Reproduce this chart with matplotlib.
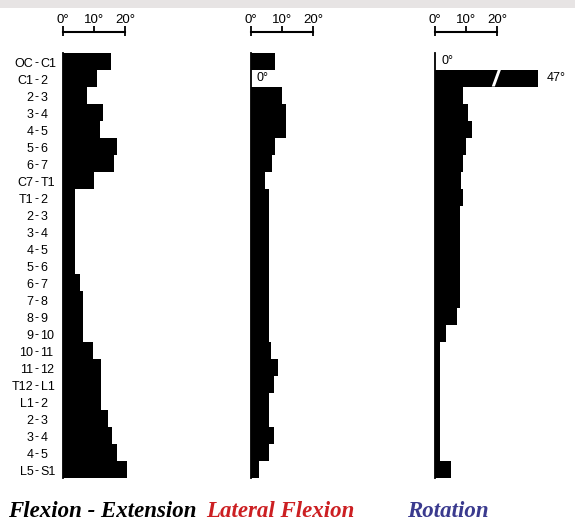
import numpy as np
import matplotlib.pyplot as plt
from matplotlib.patches import Polygon, Rectangle
from matplotlib.transforms import blended_transform_factory

# motion segments, top to bottom
segments = ["OC - C1", "C1 - 2", "2 - 3", "3 - 4", "4 - 5", "5 - 6", "6 - 7", "C7 - T1",
            "T1 - 2", "2 - 3", "3 - 4", "4 - 5", "5 - 6", "6 - 7", "7 - 8", "8 - 9",
            "9 - 10", "10 - 11", "11 - 12", "T12 - L1", "L1 - 2", "2 - 3", "3 - 4",
            "4 - 5", "L5 - S1"]

# range of motion in degrees
flexion_extension = [15.4, 11.1, 7.8, 13.0, 12.0, 17.5, 16.5, 10.0,
                     4.0, 4.0, 4.0, 4.0, 4.0, 5.6, 6.5, 6.5, 6.5,
                     9.8, 12.2, 12.2, 12.2, 14.6, 15.8, 17.3, 20.5]
lateral_flexion = [7.7, 0.0, 10.1, 11.2, 11.2, 7.7, 6.9, 4.4,
                   5.9, 5.9, 5.9, 5.9, 5.9, 5.9, 5.9, 5.9, 5.9,
                   6.5, 8.8, 7.5, 5.9, 5.9, 7.5, 5.9, 2.7]
rotation = [0.0, 47.0, 9.1, 10.6, 11.8, 9.9, 9.1, 8.3,
            9.0, 8.0, 8.0, 8.0, 8.0, 8.0, 8.0, 7.0, 3.5,
            1.7, 1.7, 1.7, 1.7, 1.7, 1.7, 1.7, 5.0]

scale_ticks = [0, 10, 20]
titles = ["Flexion - Extension", "Lateral Flexion", "Rotation"]
title_colors = ["black", "#cc1f22", "#3a3a8e"]

W, H = 575, 527
fig = plt.figure(figsize=(W / 100, H / 100), dpi=100)
fig.patch.set_facecolor("white")
fig.patches.append(Rectangle((0, 1 - 8 / H), 1, 8 / H, transform=fig.transFigure,
                             facecolor="#e7e4e4", edgecolor="none", zorder=-5))

label_font = "Liberation Sans"


def draw_panel(left_px, xmax, values, cap=None, zero_offset=4.5):
    ax = fig.add_axes([left_px / W, 49.5 / H, xmax * 3.1 / W, 425 / H])
    shown = [min(v, cap) if cap else v for v in values]
    edges = np.arange(len(values) + 1) - 0.5
    ax.stairs(shown, edges, orientation="horizontal", fill=True,
              color="black", baseline=0, linewidth=0)
    ax.set_xlim(0, xmax)
    ax.set_ylim(len(values) - 0.5, -0.5)
    ax.set_facecolor("none")

    for s in ["right", "bottom"]:
        ax.spines[s].set_visible(False)
    ax.spines["left"].set_linewidth(1.3)
    ax.spines["top"].set_position(("outward", 14.5))
    ax.spines["top"].set_bounds(scale_ticks[0], scale_ticks[-1])
    ax.spines["top"].set_linewidth(1.5)

    ax.set_yticks([])
    ax.xaxis.tick_top()
    ax.set_xticks(scale_ticks)
    ax.set_xticklabels([f"{t}°" for t in scale_ticks], fontfamily=label_font)
    ax.set_xticks([scale_ticks[0], scale_ticks[-1]], minor=True)
    ax.xaxis.remove_overlapping_locs = False
    ax.tick_params(axis="x", which="major", direction="out", length=4, width=1.3,
                   pad=0.5, labelsize=9.5)
    ax.tick_params(axis="x", which="minor", direction="in", length=3, width=1.3,
                   top=True, bottom=False)

    for i, v in enumerate(values):
        if v == 0:
            ax.annotate("0°", (0, i), xytext=(zero_offset, 0), textcoords="offset points",
                        va="center", ha="left", fontsize=9, fontfamily=label_font)
    return ax


ax1 = draw_panel(63, 30, flexion_extension)
ax2 = draw_panel(251, 30, lateral_flexion, zero_offset=4)
ax3 = draw_panel(435, 35, rotation, cap=33.2, zero_offset=4.8)

# broken bar for the big C1-2 rotation
big = int(np.argmax(rotation))
bx = 19.8
ax3.add_patch(Polygon([(bx - 1.5, big + 0.5), (bx - 0.5, big + 0.5),
                       (bx + 1.5, big - 0.5), (bx + 0.5, big - 0.5)],
                      closed=True, facecolor="white", edgecolor="none", zorder=3))
ax3.annotate(f"{rotation[big]:.0f}°", (33.2, big), xytext=(6, 0), textcoords="offset points",
             va="center", ha="left", fontsize=9, fontfamily=label_font)

# segment labels, lined up on the hyphen
tr = blended_transform_factory(fig.transFigure, ax1.transData)
for i, lab in enumerate(segments):
    a, b = lab.split(" - ")
    kw = dict(transform=tr, va="center", fontsize=9, fontfamily=label_font)
    fig.text(33.5 / W, i + 0.15, a, ha="right", **kw)
    fig.text(36.8 / W, i + 0.15, "-", ha="center", **kw)
    fig.text(40.5 / W, i + 0.15, b, ha="left", **kw)

for x_px, t, c in zip([8.5, 206.5, 407], titles, title_colors):
    fig.text(x_px / W, 10 / H, t, color=c, fontfamily="Liberation Serif",
             fontweight="bold", fontstyle="italic", fontsize=16.5, va="baseline")

fig.savefig("out.png", dpi=100, facecolor=fig.get_facecolor())
